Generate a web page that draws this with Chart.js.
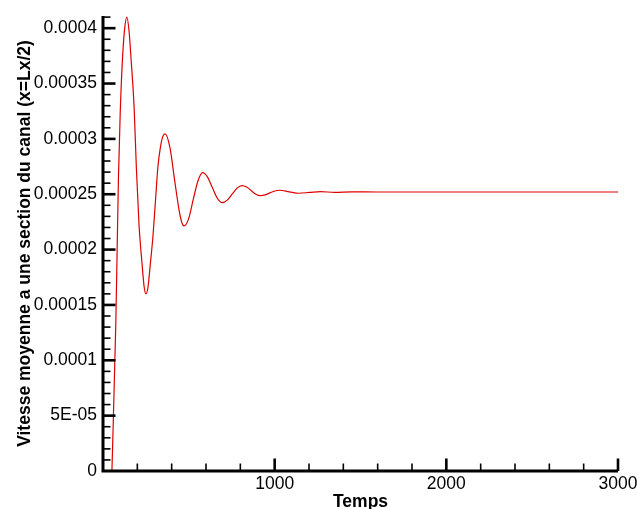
<!DOCTYPE html>
<html>
<head>
<meta charset="utf-8">
<script src="https://cdn.jsdelivr.net/npm/chart.js@4"></script>
<style>
  html, body { margin: 0; padding: 0; background: #fff; }
  #wrap { width: 637px; height: 509px; }
</style>
</head>
<body>
<div id="wrap"><canvas id="c" width="637" height="509"></canvas></div>
<script>
// ---- data ----
const times = [52,75,90,100,112,125,139,152,164,182,194,210,227,240,250,262,275,291,306,320,335,348,362,390,417,445,460,472,499,526,553,580,609,637,666,695,724,752,781,810,837,864,890,917,945,973,1001,1029,1085,1140,1203,1266,1350,1450,1600,2000,2500,3000];
const velocity = [0,0.000136,0.000265,0.000322,0.000368,0.000398,0.00041,0.000397,0.000371,0.000326,0.000275,0.000222,0.000188,0.000166,0.00016,0.000166,0.000186,0.000212,0.000245,0.000275,0.000293,0.000302,0.0003045,0.000292,0.000263,0.000234,0.000224,0.0002214,0.000228,0.0002455,0.000262,0.0002695,0.0002655,0.000256,0.0002464,0.0002424,0.0002447,0.00025,0.0002555,0.0002578,0.0002565,0.0002532,0.00025,0.0002487,0.0002494,0.0002512,0.0002529,0.0002536,0.0002522,0.0002509,0.0002516,0.0002524,0.0002516,0.0002521,0.000252,0.000252,0.000252,0.000252];
const xTickValues = [1000, 2000, 3000];
const xMinorValues = [200,400,600,800,1200,1400,1600,1800,2200,2400,2600,2800];
const yTickValues = [0,0.00005,0.0001,0.00015,0.0002,0.00025,0.0003,0.00035,0.0004];
const yTickLabels = ['0','5E-05','0.0001','0.00015','0.0002','0.00025','0.0003','0.00035','0.0004'];
const yMinorValues = [];
for (let i = 1; i <= 41; i++) { if (i % 5 !== 0) yMinorValues.push(i * 0.00001); }
const xTitle = 'Temps';
const yTitle = 'Vitesse moyenne a une section du canal (x=Lx/2)';

const FONT = '"Liberation Sans", Arial, sans-serif';

const innerTicks = {
  id: 'innerTicks',
  afterDatasetsDraw(chart) {
    const ctx = chart.ctx;
    const xs = chart.scales.x, ys = chart.scales.y;
    const a = chart.chartArea;
    ctx.save();
    ctx.strokeStyle = '#000';
    ctx.lineCap = 'butt';
    ctx.lineWidth = 1.6;
    yMinorValues.forEach(v => {
      const y = ys.getPixelForValue(v);
      ctx.beginPath(); ctx.moveTo(a.left, y); ctx.lineTo(a.left + 7.5, y); ctx.stroke();
    });
    xMinorValues.forEach(v => {
      const x = xs.getPixelForValue(v);
      ctx.beginPath(); ctx.moveTo(x, a.bottom); ctx.lineTo(x, a.bottom - 7.5); ctx.stroke();
    });
    ctx.lineWidth = 2.6;
    yTickValues.forEach(v => {
      if (v === 0) return;
      const y = ys.getPixelForValue(v);
      ctx.beginPath(); ctx.moveTo(a.left, y); ctx.lineTo(a.left + 12.5, y); ctx.stroke();
    });
    xTickValues.forEach(v => {
      const x = xs.getPixelForValue(v);
      ctx.beginPath(); ctx.moveTo(x, a.bottom); ctx.lineTo(x, a.bottom - 12.5); ctx.stroke();
    });
    ctx.lineWidth = 3;
    ctx.beginPath();
    ctx.moveTo(a.left, a.top);
    ctx.lineTo(a.left, a.bottom);
    ctx.lineTo(a.right, a.bottom);
    ctx.stroke();
    ctx.restore();
  }
};

new Chart(document.getElementById('c'), {
  type: 'line',
  data: {
    datasets: [{
      data: times.map((t, i) => ({ x: t, y: velocity[i] })),
      borderColor: '#dd0000',
      borderWidth: 1.2,
      pointRadius: 0,
      fill: false,
      cubicInterpolationMode: 'monotone'
    }]
  },
  options: {
    responsive: false,
    animation: false,
    devicePixelRatio: 1,
    layout: { padding: { top: 16, right: 19, left: 0, bottom: 0 } },
    plugins: { legend: { display: false }, tooltip: { enabled: false } },
    scales: {
      x: {
        type: 'linear',
        min: 0, max: 3000,
        grid: { display: false, drawTicks: false },
        border: { display: false },
        afterBuildTicks: s => { s.ticks = xTickValues.map(v => ({ value: v })); },
        afterFit: s => { s.height = 38; s.paddingRight = 0; s.paddingLeft = 0; },
        ticks: {
          padding: 3,
          maxRotation: 0,
          color: '#000',
          font: { family: FONT, size: 17.5 },
          callback: v => String(v)
        },
        title: {
          display: true, text: xTitle, color: '#000',
          font: { family: FONT, size: 17.5, weight: 'bold' },
          padding: { top: 0, bottom: -4 }
        }
      },
      y: {
        type: 'linear',
        min: 0, max: 0.000411,
        grid: { display: false, drawTicks: false },
        border: { display: false },
        afterBuildTicks: s => { s.ticks = yTickValues.map(v => ({ value: v })); },
        afterFit: s => { s.width = 103; s.paddingTop = 0; s.paddingBottom = 0; },
        ticks: {
          padding: 6,
          color: '#000',
          font: { family: FONT, size: 17.5 },
          callback: (v, i) => yTickLabels[i]
        },
        title: {
          display: true, text: yTitle, color: '#000',
          font: { family: FONT, size: 17.5, weight: 'bold' },
          padding: { top: 14.5, bottom: 0 }
        }
      }
    }
  },
  plugins: [innerTicks]
});
</script>
</body>
</html>
